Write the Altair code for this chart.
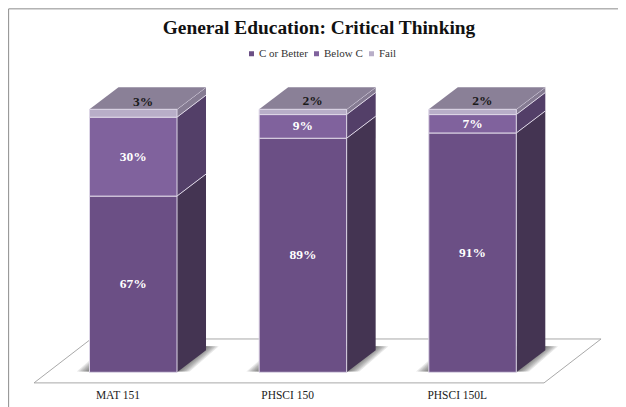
import altair as alt
import pandas as pd

categories = ["MAT 151", "PHSCI 150", "PHSCI 150L"]
series = ["C or Better", "Below C", "Fail"]
c_or_better = [67, 89, 91]
below_c = [30, 9, 7]
fail = [3, 2, 2]
front_colors = ["#6B4F85", "#80629D", "#B8AEC8"]
side_colors = ["#443452", "#533F68", "#857B92"]
top_color = "#8A8097"
label_colors = ["#FFFFFF", "#FFFFFF", "#1A1A1A"]
FONT = "Liberation Serif"

BAR_W = 0.5158
DX = 0.171
DY = 8.365
LABEL_SHIFT = -0.09
shadow_spread = [0.075, 0.065, 0.055, 0.045, 0.035, 0.025, 0.015, 0.007]
floor_x = [-0.585, 2.4214]
floor_shift = 0.336
floor_y = [-4.03, 12.67]
x_domain = [-0.7383, 2.8574]
frame_x = [-0.7346, 2.8574]
frame_y = [138.2, -13.2]
label_y = -9.0

xs = alt.Scale(domain=x_domain, nice=False, zero=False)
ys = alt.Scale(domain=[-5.21, 118.75], nice=False, zero=False)
X = lambda f: alt.X(f, type="quantitative", scale=xs, title=None, axis=None)
Y = lambda f: alt.Y(f, type="quantitative", scale=ys, axis=None, title=None)

front, side, edges, labels = [], [], [], []
for i, cat in enumerate(categories):
    base = 0
    for s, v in zip(series, (c_or_better[i], below_c[i], fail[i])):
        l, r = i - BAR_W / 2, i + BAR_W / 2
        front.append(dict(cat=cat, series=s, x=l, x2=r, y=base, y2=base + v))
        for t in (0, 1):
            side.append(dict(key=f"{i}{s}", series=s, x=r + t * DX, y=base + t * DY,
                             y2=base + v + t * DY))
            edges.append(dict(key=f"{i}{s}", x=r + t * DX, y=base + v + t * DY))
        mid = base + v / 2
        if s == "Fail":
            labels.append(dict(series=s, x=i + DX / 2 - 0.028, y=mid + DY / 2, t=f"{v}%"))
        else:
            labels.append(dict(series=s, x=i, y=mid, t=f"{v}%"))
        base += v

top, shadow = [], []
for i in range(len(categories)):
    l, r = i - BAR_W / 2, i + BAR_W / 2
    for t in (0, 1):
        top.append(dict(key=i, y=100 + t * DY, x=l + t * DX, x2=r + t * DX))
    for k, sp in enumerate(shadow_spread):
        for t in (0, 1):
            shadow.append(dict(key=f"{i}-{k}", y=0.3 + t * (DY + 1.2),
                               x=l - sp + t * DX, x2=r + sp + t * DX))

floor = pd.DataFrame([
    dict(y=floor_y[0], x=floor_x[0], x2=floor_x[1]),
    dict(y=floor_y[1], x=floor_x[0] + floor_shift, x2=floor_x[1] + floor_shift),
])
frame_h = pd.DataFrame(dict(y=[frame_y[0]], x=[frame_x[0]], x2=[frame_x[1]]))
frame_v = pd.DataFrame(dict(x=[frame_x[0]], y=[frame_y[0]], y2=[frame_y[1]]))
cat_df = pd.DataFrame(dict(
    cat=categories, x=[i + LABEL_SHIFT for i in range(len(categories))], y=[label_y] * 3
))

floor_layer = alt.Chart(floor).mark_area(
    orient="horizontal", fill="#FFFFFF", stroke="#A9A9A9", strokeWidth=1
).encode(y=Y("y"), x=X("x"), x2="x2")

shadow_layer = alt.Chart(pd.DataFrame(shadow)).mark_area(
    orient="horizontal", fill="#2B2B2B", opacity=0.11
).encode(y=Y("y"), x=X("x"), x2="x2", detail="key:N")

sc = alt.Scale(domain=series, range=side_colors)
side_layer = alt.Chart(pd.DataFrame(side)).mark_area(orient="vertical").encode(
    x=X("x"), y=Y("y"), y2="y2", detail="key:N",
    color=alt.Color("series:N", scale=sc, legend=None),
)
edge_layer = alt.Chart(pd.DataFrame(edges)).mark_line(
    color="#DDD6E6", strokeWidth=1
).encode(x=X("x"), y=Y("y"), detail="key:N")

top_layer = alt.Chart(pd.DataFrame(top)).mark_area(
    orient="horizontal", fill=top_color
).encode(y=Y("y"), x=X("x"), x2="x2", detail="key:N")

fc = alt.Scale(domain=series, range=front_colors)
front_layer = alt.Chart(pd.DataFrame(front)).mark_rect(
    stroke="#DDD6E6", strokeWidth=1
).encode(
    x=X("x"), x2="x2", y=Y("y"), y2="y2",
    color=alt.Color(
        "series:N", scale=fc, sort=series,
        legend=alt.Legend(
            orient="none", legendX=238, legendY=-12, direction="horizontal", title=None,
            symbolType="square", symbolSize=25, symbolStrokeWidth=0,
            labelFont=FONT, labelFontSize=11, labelColor="#333333",
            columnPadding=3, symbolOffset=0, labelOffset=2, padding=0,
        ),
    ),
)

lc = alt.Scale(domain=series, range=label_colors)
label_layer = alt.Chart(pd.DataFrame(labels)).mark_text(
    font=FONT, fontSize=13.5, fontWeight="bold"
).encode(
    x=X("x"), y=Y("y"), text="t:N",
    color=alt.Color("series:N", scale=lc, legend=None),
)

cat_layer = alt.Chart(cat_df).mark_text(
    font=FONT, fontSize=11.5, color="#222222"
).encode(x=X("x"), y=Y("y"), text="cat:N")

frame_a = alt.Chart(frame_h).mark_rule(color="#8C8C8C", strokeWidth=1).encode(
    x=X("x"), x2="x2", y=Y("y"))
frame_b = alt.Chart(frame_v).mark_rule(color="#8C8C8C", strokeWidth=1).encode(
    x=X("x"), y=Y("y"), y2="y2")

chart = alt.layer(
    frame_a, frame_b, floor_layer, shadow_layer, side_layer, edge_layer, top_layer,
    front_layer, label_layer, cat_layer,
).resolve_scale(color="independent").properties(
    width=610, height=326,
    padding={"left": 0, "top": 52, "right": 0, "bottom": 21},
    autosize=alt.AutoSizeParams(type="none"),
    title=alt.TitleParams(
        "General Education: Critical Thinking", font=FONT, fontSize=19.4,
        fontWeight="bold", color="#111111", anchor="middle", offset=-30, dx=6,
    ),
    background="#FFFFFF",
).configure_view(stroke=None)

chart.save("out.html", embed_options={"renderer": "svg", "actions": False})
